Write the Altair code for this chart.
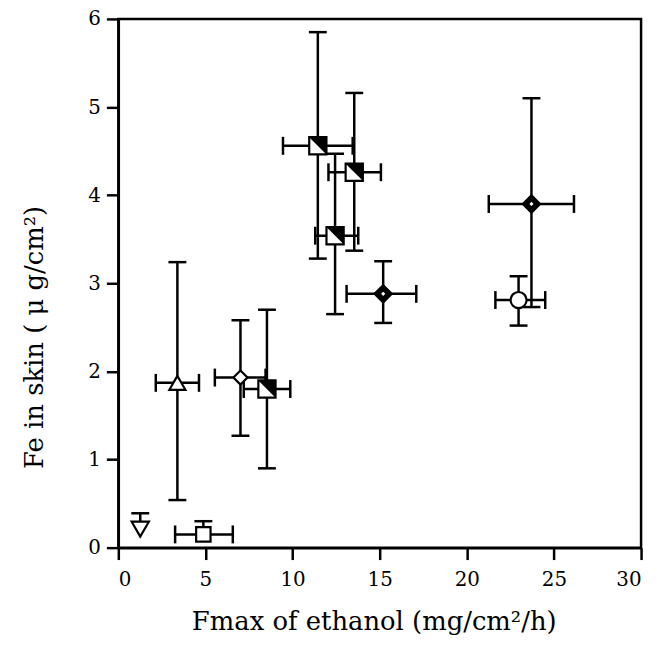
import altair as alt

# ---- data ----
kind = ["tri_down", "square", "tri_up", "diamond_open", "half", "half", "half", "half",
        "diamond_fill", "diamond_fill", "circle"]
x = [1.26, 4.88, 3.39, 7.01, 8.53, 11.45, 13.54, 12.44, 15.2, 23.71, 22.97]
y = [0.21, 0.15, 1.87, 1.93, 1.80, 4.56, 4.26, 3.54, 2.88, 3.90, 2.81]
x_lo = [None, 3.26, 2.15, 5.54, 7.20, 9.45, 12.06, 11.30, 13.10, 21.26, 21.64]
x_hi = [None, 6.57, 4.63, 8.45, 9.87, 13.45, 15.07, 13.77, 17.10, 26.15, 24.50]
y_lo = [None, None, 0.54, 1.27, 0.90, 3.28, 3.37, 2.65, 2.55, 2.73, 2.52]
y_hi = [0.39, 0.30, 3.24, 2.58, 2.70, 5.85, 5.16, 4.47, 3.25, 5.10, 3.08]

x_ticks = [0, 5, 10, 15, 20, 25, 30]
y_ticks = [0, 1, 2, 3, 4, 5, 6]

rows = [dict(kind=k, x=a, y=b, x_lo=c, x_hi=d, y_lo=e, y_hi=f)
        for k, a, b, c, d, e, f in zip(kind, x, y, x_lo, x_hi, y_lo, y_hi)]
data = alt.Data(values=rows)

FONT = "DejaVu Serif"
W, H = 526, 532

xs = alt.Scale(domain=[0, 30], nice=False, zero=False)
ys = alt.Scale(domain=[0, 6], nice=False, zero=False)

x_axis = alt.Axis(values=x_ticks, format="d", title="Fmax of ethanol (mg/cm²/h)",
                  labelPadding=10, titleX=W / 2 - 6, titleY=74, titleAlign="center",
                  titleBaseline="middle", titleAngle=0)
y_axis = alt.Axis(values=y_ticks, format="d", title="Fe in skin ( μ g/cm²)",
                  labelPadding=6, titleX=-84, titleY=320, titleAlign="center",
                  titleBaseline="middle", titleAngle=-90)

base = alt.Chart(data)
LW = 2.5
CAP = 18

vrule = base.transform_calculate(
    vlo="isValid(datum.y_lo) ? datum.y_lo : datum.y"
).mark_rule(color="black", strokeWidth=LW).encode(
    x=alt.X("x:Q", scale=xs, axis=x_axis),
    y=alt.Y("vlo:Q", scale=ys, axis=y_axis),
    y2="y_hi:Q",
)
hrule = base.transform_filter("isValid(datum.x_lo)").mark_rule(
    color="black", strokeWidth=LW).encode(
    x=alt.X("x_lo:Q", scale=xs), x2="x_hi:Q", y=alt.Y("y:Q", scale=ys))

cap_top = base.mark_tick(orient="horizontal", size=CAP, thickness=LW, color="black", opacity=1).encode(
    x=alt.X("x:Q", scale=xs), y=alt.Y("y_hi:Q", scale=ys))
cap_bot = base.transform_filter("isValid(datum.y_lo)").mark_tick(
    orient="horizontal", size=CAP, thickness=LW, color="black", opacity=1).encode(
    x=alt.X("x:Q", scale=xs), y=alt.Y("y_lo:Q", scale=ys))
cap_left = base.transform_filter("isValid(datum.x_lo)").mark_tick(
    orient="vertical", size=CAP, thickness=LW, color="black", opacity=1).encode(
    x=alt.X("x_lo:Q", scale=xs), y=alt.Y("y:Q", scale=ys))
cap_right = base.transform_filter("isValid(datum.x_hi)").mark_tick(
    orient="vertical", size=CAP, thickness=LW, color="black", opacity=1).encode(
    x=alt.X("x_hi:Q", scale=xs), y=alt.Y("y:Q", scale=ys))

styles = {
    "tri_down": dict(shape="triangle-down", fill="white", size=300),
    "square": dict(shape="square", fill="white", size=210),
    "tri_up": dict(shape="triangle-up", fill="white", size=260),
    "diamond_open": dict(shape="diamond", fill="white", size=200),
    "half": dict(shape="square", fill="white", size=300),
    "diamond_fill": dict(shape="diamond", fill="black", size=300),
    "circle": dict(shape="circle", fill="white", size=260),
}

markers = []
for k, st in styles.items():
    markers.append(
        base.transform_filter(alt.datum.kind == k).mark_point(
            shape=st["shape"], filled=True, fill=st["fill"], stroke="black",
            strokeWidth=2.2, size=st["size"], opacity=1
        ).encode(x=alt.X("x:Q", scale=xs), y=alt.Y("y:Q", scale=ys))
    )
# black half of the half-filled squares
markers.append(
    base.transform_filter(alt.datum.kind == "half").mark_point(
        shape="M-1,-1L1,-1L1,1Z", filled=True, fill="black", strokeWidth=0,
        size=300, opacity=1
    ).encode(x=alt.X("x:Q", scale=xs), y=alt.Y("y:Q", scale=ys))
)
# small white dot in the filled diamonds
markers.append(
    base.transform_filter(alt.datum.kind == "diamond_fill").mark_point(
        shape="diamond", filled=True, fill="white", strokeWidth=0, size=18, opacity=1
    ).encode(x=alt.X("x:Q", scale=xs), y=alt.Y("y:Q", scale=ys))
)

chart = alt.layer(vrule, hrule, cap_top, cap_bot, cap_left, cap_right, *markers).properties(
    width=W, height=H,
    autosize=alt.AutoSizeParams(type="none"),
    padding={"left": 111, "top": 9, "right": 10, "bottom": 100},
    background="white",
).configure_view(
    stroke="black", strokeWidth=LW
).configure_axis(
    grid=False, domainColor="black", domainWidth=LW, tickColor="black",
    tickWidth=LW, tickSize=12, labelFont=FONT, labelFontSize=20,
    labelColor="black", titleFont=FONT, titleFontSize=26, titleFontWeight="normal",
    titleColor="black",
)

chart.save("out.html", embed_options={"renderer": "svg", "actions": False})
